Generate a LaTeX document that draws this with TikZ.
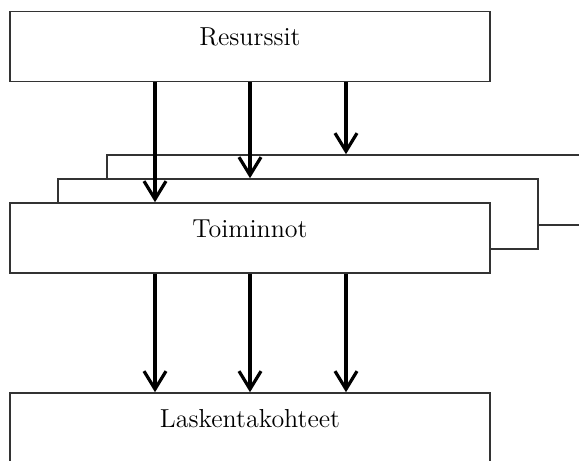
\documentclass[tikz,border=0pt]{standalone}
\usepackage{fontspec}
\usepackage{tikz}
\usetikzlibrary{arrows.meta}

\tikzset{
	box/.style={draw=black!80, line width=0.8pt, fill=white, inner sep=0pt,
		minimum width=240pt, text height=17pt, text depth=18pt,
		font=\fontsize{13}{15}\selectfont},
	flow/.style={line width=1.8pt, -{Straight Barb[length=9pt,width=11pt,line width=1.6pt]}}
}

\begin{document}
\begin{tikzpicture}[x=0.5pt,y=-0.5pt]
	\clip (0,0) rectangle (579,461);
	% taustalla olevat kerrokset
	\node[box] at (347,190) (layer3) {};
	\node[box] at (298,214) (layer2) {};
	\node[box] at (250,238) (toi) {Toiminnot};
	\node[box] at (250,46.5) (res) {Resurssit};
	\node[box] at (250,428) (las) {Laskentakohteet};
	% resurssit -> toiminnot
	\draw[flow] ([xshift=-47.5pt]res.south) -- ([xshift=-47.5pt]res.south |- toi.north);
	\draw[flow] (res.south) -- (res.south |- layer2.north);
	\draw[flow] ([xshift=48pt]res.south) -- ([xshift=48pt]res.south |- layer3.north);
	% toiminnot -> laskentakohteet
	\foreach \d in {-47.5,0,48}
		\draw[flow] ([xshift=\d pt]toi.south) -- ([xshift=\d pt]toi.south |- las.north);
\end{tikzpicture}
\end{document}
